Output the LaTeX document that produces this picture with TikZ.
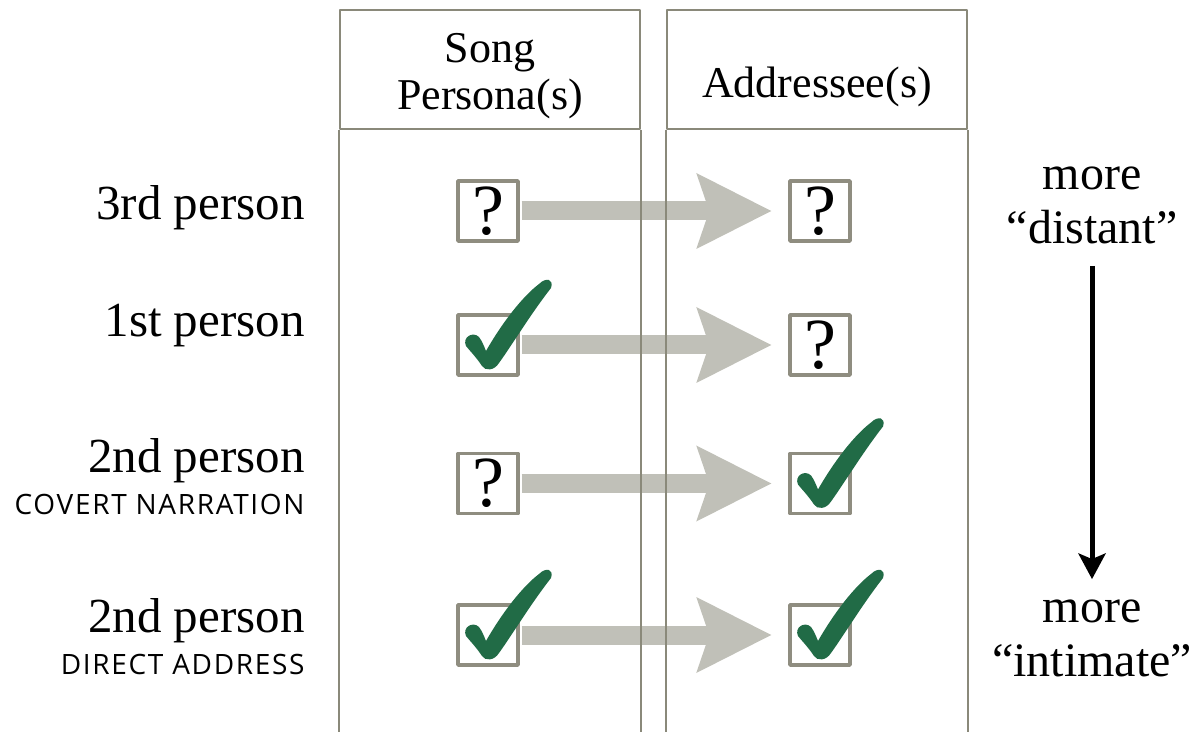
\documentclass[tikz,border=0pt]{standalone}
\usepackage{fontspec}
\setmainfont{Liberation Serif}
\newfontfamily\capsans[LetterSpace=6]{Open Sans}
\usetikzlibrary{arrows.meta,positioning}

\definecolor{colline}{HTML}{8A897A}
\definecolor{boxline}{HTML}{8F8D80}
\definecolor{shaft}{HTML}{C0C0B8}
\definecolor{tick}{HTML}{216B46}

\tikzset{
  hdr/.style={draw=colline, line width=1pt, minimum width=150pt, minimum height=59.5pt, inner sep=0pt},
  hdrtext/.style={align=center, inner sep=0pt, font=\fontsize{22}{23.5}\selectfont},
  markbox/.style={draw=boxline, line width=1.75pt, fill=white, minimum size=30pt, inner sep=0pt, font=\fontsize{36}{36}\selectfont},
  rowlabel/.style={anchor=east, inner sep=0pt, font=\fontsize{24.5}{26}\selectfont},
  sublabel/.style={inner sep=0pt, font=\capsans\fontsize{14}{15}\selectfont},
  sidelabel/.style={align=center, inner sep=0pt, font=\fontsize{24}{27}\selectfont},
  garrow/.style={draw=shaft, line width=9.5pt, -{Stealth[length=37.5pt, width=38pt, inset=6.5pt, line width=0pt]}, shorten <=0.9pt, shorten >=8.5pt},
  downarrow/.style={draw=black, line width=2.5pt, -{Stealth[length=13pt, width=14pt, inset=3pt, line width=0pt]}, shorten <=11pt, shorten >=10pt},
  tickmark/.pic={
    \fill[tick] (-6,21) .. controls (-12,12) and (-18,6) .. (-22,1)
      .. controls (-26,-8) and (-15,-14) .. (-9,-8)
      .. controls (-6,-4) and (-4,1) .. (-2,6)
      .. controls (14,-22) and (34,-48) .. (51,-61)
      .. controls (58,-68) and (66,-66) .. (63,-57)
      .. controls (42,-30) and (24,0) .. (11,18)
      .. controls (6,26) and (-3,26) .. (-6,21) -- cycle;
  }
}

\begin{document}
\begin{tikzpicture}[x=0.5pt, y=-0.5pt, line join=round]
  \useasboundingbox[fill=white] (0,0) rectangle (1194,732);

  % column heads
  \node[hdr] (hsong) at (490,69.5) {};
  \node[hdr] (haddr) at (817,69.5) {};
  \node[hdrtext] (tsong) at (490,76) {Song\\Persona(s)};
  \node[hdrtext] (taddr) at (817,87) {Addressee(s)};

  % row labels
  \node[rowlabel] (l1) at (305,208) {3rd person};
  \node[rowlabel] (l2) at (305,326) {1st person};
  \node[rowlabel] (l3) at (305,461) {2nd person};
  \node[sublabel, below=5pt of l3.south east, anchor=north east] (s3) {COVERT NARRATION};
  \node[rowlabel] (l4) at (305,621) {2nd person};
  \node[sublabel, below=5pt of l4.south east, anchor=north east] (s4) {DIRECT ADDRESS};

  % boxes
  \node[markbox] (p1) at (488,211) {?};
  \node[markbox] (a1) at (820,211) {?};
  \node[markbox] (p2) at (488,345) {};
  \node[markbox] (a2) at (820,345) {?};
  \node[markbox] (p3) at (488,483.5) {?};
  \node[markbox] (a3) at (820,483.5) {};
  \node[markbox] (p4) at (488,635) {};
  \node[markbox] (a4) at (820,635) {};

  % grey arrows
  \foreach \r in {1,...,4}
    \draw[garrow] (p\r.east) -- (a\r.west);

  % column sides
  \draw[colline, line width=1pt] (hsong.south west) -- ++(0,610) (hsong.south east) -- ++(0,610)
    (haddr.south west) -- ++(0,610) (haddr.south east) -- ++(0,610);

  % ticks
  \pic at (p2) {tickmark};
  \pic at (a3) {tickmark};
  \pic at (p4) {tickmark};
  \pic at (a4) {tickmark};

  % scale on the right
  \node[sidelabel] (far) at (1092,205) {more\\“distant”};
  \node[sidelabel] (near) at (1092,638) {more\\“intimate”};
  \draw[downarrow] (far) -- (near);
\end{tikzpicture}
\end{document}
